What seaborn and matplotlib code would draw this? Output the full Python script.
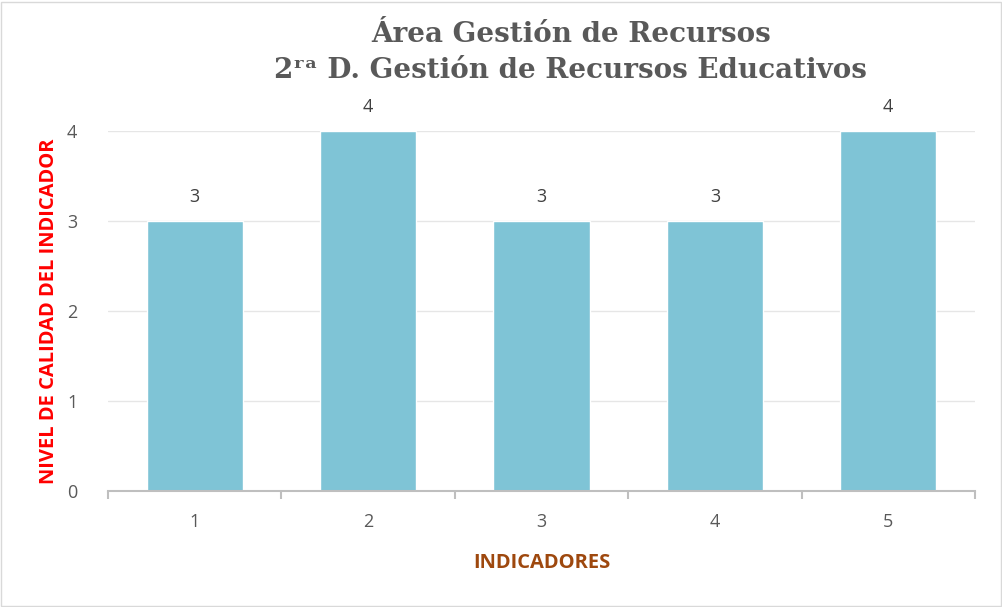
import numpy as np
import pandas as pd
import seaborn as sns
import matplotlib.pyplot as plt
from matplotlib.patches import Rectangle

indicadores = ["1", "2", "3", "4", "5"]
nivel = [3, 4, 3, 3, 4]
y_ticks = [0, 1, 2, 3, 4]

titulo_1 = "Área Gestión de Recursos"
titulo_2 = "2ʳᵃ D. Gestión de Recursos Educativos"

sns.set_style("white")
plt.rcParams['font.family'] = ['Open Sans', 'DejaVu Sans']

df = pd.DataFrame({'indicador': indicadores, 'nivel': nivel})

fig = plt.figure(figsize=(10.03, 6.07), dpi=100)
ax = fig.add_axes([108 / 1003, (607 - 491) / 607, (975 - 108) / 1003, 360 / 607])

sns.barplot(data=df, x='indicador', y='nivel', color='#7FC4D6', saturation=1,
            width=0.555, ax=ax, zorder=3)

ax.set_ylim(0, 4)
ax.set_xlim(-0.5, 4.5)
ax.set_yticks(y_ticks)
ax.grid(axis='y', color='#E6E6E6', linewidth=1, zorder=0)
for s in ['top', 'right', 'left']:
    ax.spines[s].set_visible(False)
ax.spines['bottom'].set_color('#BFBFBF')
ax.spines['bottom'].set_linewidth(1.5)
ax.spines['bottom'].set_zorder(4)

ax.set_xticks(np.arange(-0.5, 5, 1), minor=True)
ax.tick_params(axis='x', which='minor', bottom=True, length=6, width=1.5, color='#BFBFBF', direction='out')
ax.tick_params(axis='x', which='major', length=0, pad=16, labelsize=13, labelcolor='#595959')
ax.tick_params(axis='y', length=0, pad=22, labelsize=13, labelcolor='#595959')

for c in ax.containers:
    ax.bar_label(c, padding=11, fontsize=13, color='#404040')

ax.set_xlabel('INDICADORES', fontsize=14.5, fontweight='bold', color='#9E480E', labelpad=16)
ax.set_ylabel('NIVEL DE CALIDAD DEL INDICADOR', fontsize=14.5, fontweight='bold', color='#FF0000', labelpad=6)

serif = ['DejaVu Serif', 'DejaVu Sans']
fig.text(571 / 1003, 1 - 34 / 607, titulo_1, ha='center', va='center', fontsize=20,
         fontweight='bold', color='#595959', family=serif)
fig.text(570 / 1003, 1 - 71 / 607, titulo_2, ha='center', va='center', fontsize=20,
         fontweight='bold', color='#595959', family=serif)

fig.patches.append(Rectangle((1 / 1003, 1 / 607), 1000 / 1003, 604 / 607, transform=fig.transFigure,
                             fill=False, edgecolor='#D9D9D9', linewidth=1))

fig.savefig('out.png', dpi=100)
